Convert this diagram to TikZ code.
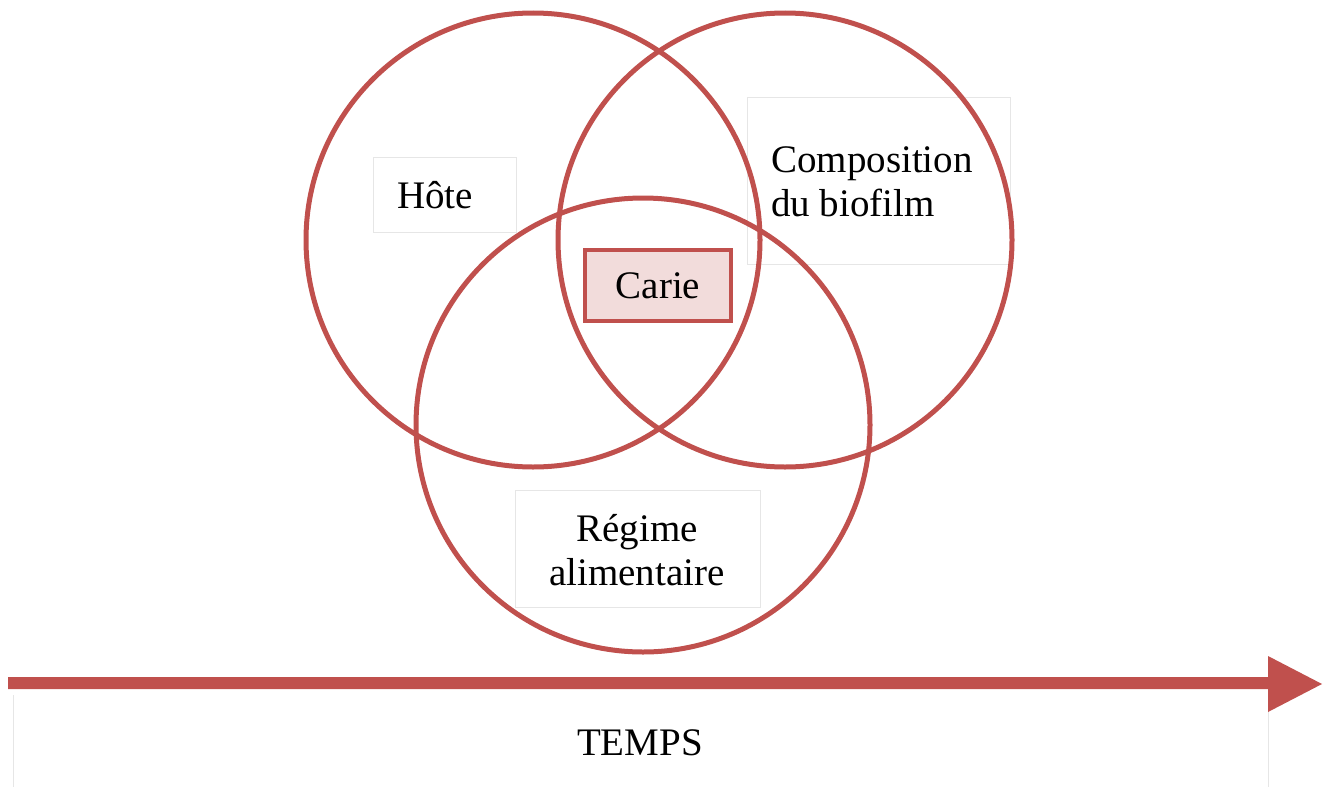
\documentclass[tikz,border=0pt]{standalone}
\usepackage{fontspec}
\setmainfont{Liberation Serif}
\begin{document}
\definecolor{vred}{HTML}{C0504D}
\definecolor{vpink}{HTML}{F2DCDB}
\definecolor{faint}{HTML}{E6E6E6}
\begin{tikzpicture}[x=0.5pt,y=-0.5pt,
  ring/.style={circle,draw=vred,line width=2.5pt,minimum size=227pt,inner sep=0pt},
  label box/.style={draw=faint,line width=0.4pt},
  word/.style={font=\fontsize{19.5pt}{22pt}\selectfont,align=center,inner sep=0pt}]
\useasboundingbox (0,0) rectangle (1326,787);
% faint frames behind the labels
\draw[label box] (373,157) rectangle (516,232);
\draw[label box] (747,97) rectangle (1010,264);
\draw[label box] (515,490) rectangle (760,607);
\draw[faint,line width=0.4pt] (13,787) -- (13,695) (1268,695) -- (1268,787);
% the three overlapping factors
\node[ring] (hote) at (533,240) {};
\node[ring] (bio) at (785,240) {};
\node[ring] (regime) at (643,425) {};
% labels
\node[word] (thote) at (435,195) {Hôte};
\node[word,align=left] (tbio) at (872,182) {Composition\\du biofilm};
\node[word] (treg) at (637,550) {Régime\\alimentaire};
% centre
\node[draw=vred,fill=vpink,line width=2pt,minimum width=73pt,minimum height=35.5pt,inner sep=0pt,
      font=\fontsize{19.5pt}{22pt}\selectfont] (carie) at (658,285.5) {Carie};
% time axis
\coordinate (t0) at (8,683);
\coordinate (t1) at (1268,683);
\coordinate (tip) at (1322,684);
\fill[vred] (8,677) -- (1268,677) -- (1268,656) -- (tip) -- (1268,712) -- (1268,689) -- (8,689) -- cycle;
\node[word] (temps) at (640,743) {TEMPS};
\end{tikzpicture}
\end{document}
